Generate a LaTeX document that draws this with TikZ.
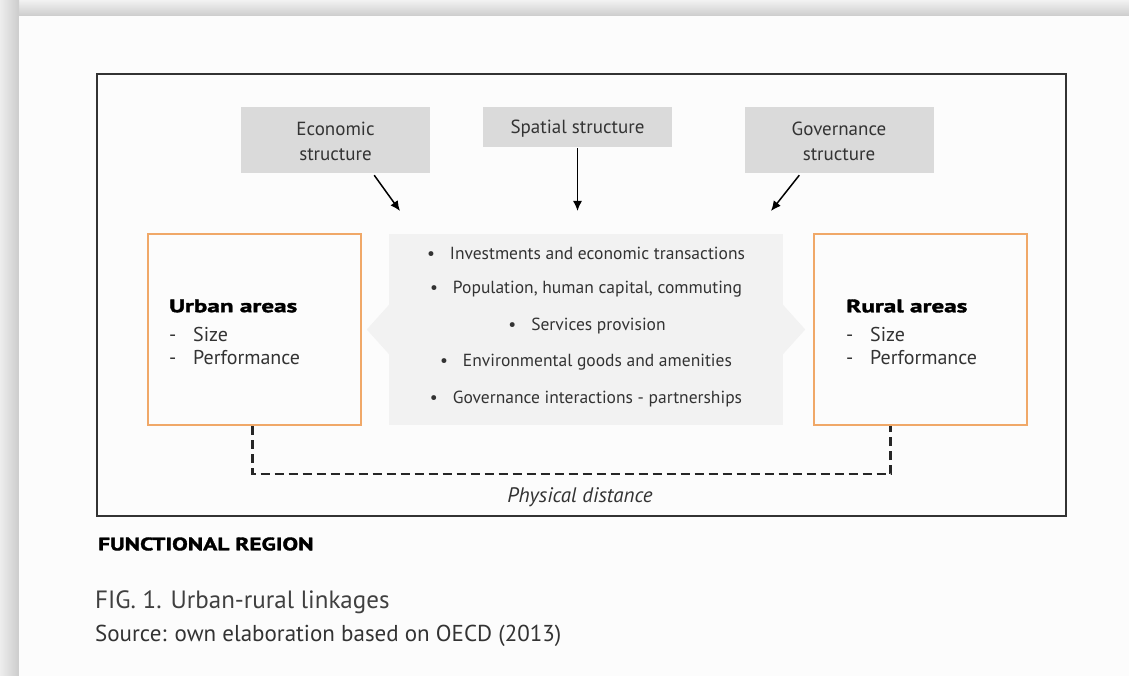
\documentclass[tikz,border=0pt]{standalone}
\usepackage{fontspec}
\setmainfont{PT Sans}
\newfontfamily\heavy{PT Sans}[BoldFeatures={FakeBold=2,FakeStretch=1.4}]
\newfontfamily\heavycap{PT Sans}[BoldFeatures={FakeBold=2,FakeStretch=1.3}]
\usetikzlibrary{arrows.meta,calc}
\definecolor{txt}{HTML}{333333}
\definecolor{topgray}{HTML}{DADADA}
\definecolor{midgray}{HTML}{F2F2F2}
\definecolor{orng}{RGB}{240,168,104}
\definecolor{frm}{HTML}{333333}
\newcommand{\lowertxt}[2]{\raisebox{-#1}[\height][\depth]{#2}}
\begin{document}
\begin{tikzpicture}[x=1pt,y=-1pt,
  every node/.style={text=txt, inner sep=0pt},
  topbox/.style={fill=topgray, minimum width=189pt, align=center, font=\fontsize{19}{25}\selectfont},
  areabox/.style={draw=orng, line width=2pt, minimum width=213pt, minimum height=191pt},
  linetxt/.style={font=\fontsize{17.5}{20}\selectfont},
  headtxt/.style={anchor=west, font=\fontsize{18}{20}\heavy\bfseries, text=black},
  itemtxt/.style={anchor=west, font=\fontsize{20}{22}\selectfont},
  arr/.style={line width=1.5pt, draw=black, -{Latex[length=10pt,width=9pt]}},
  dist/.style={line width=2.2pt, draw=black!85, dash pattern=on 9pt off 5pt}
]
\useasboundingbox (0,0) rectangle (1129,676);
\fill[white!99!black] (0,0) rectangle (1129,676);
\shade[top color=white!95!black, bottom color=white!80!black] (0,0) rectangle (1129,16);
\shade[left color=white!93!black, right color=white!80!black] (0,0) rectangle (19,676);
\fill[white!99!black] (19,16) rectangle (1129,676);

% outer frame
\node[draw=frm, line width=2.5pt, minimum width=969pt, minimum height=442pt] (frame) at (581.5,295) {};

% top boxes
\node[topbox, minimum height=66pt] (econ) at (335.5,140) {\lowertxt{3pt}{\begin{tabular}{@{}c@{}}Economic\\structure\end{tabular}}};
\node[topbox, minimum height=40pt] (spat) at (577.5,127) {\lowertxt{2pt}{Spatial structure}};
\node[topbox, minimum height=66pt] (gov) at (839,140) {\lowertxt{3pt}{\begin{tabular}{@{}c@{}}Governance\\structure\end{tabular}}};

% central box
\node[fill=midgray, minimum width=394pt, minimum height=191pt] (links) at (586,329.5) {};
\fill[midgray] ($(links.west)+(0.5,-25)$) -- ++(-22.5,25) -- ++(22.5,25) -- cycle;
\fill[midgray] ($(links.east)+(-0.5,-25)$) -- ++(22.5,25) -- ++(-22.5,25) -- cycle;

\node[linetxt] (l1) at (586,253) {•\hspace{15pt}Investments and economic transactions};
\node[linetxt] (l2) at (586,289) {•\hspace{15pt}Population, human capital, commuting};
\node[linetxt] (l3) at (587,326) {•\hspace{15pt}Services provision};
\node[linetxt] (l4) at (586,362) {•\hspace{15pt}Environmental goods and amenities};
\node[linetxt] (l5) at (586,399) {•\hspace{15pt}Governance interactions - partnerships};

% arrows
\coordinate (econE) at (400,211);
\coordinate (spatE) at (577.5,211);
\coordinate (govE) at (771,211);
\draw[arr] ([xshift=-56pt,yshift=-2pt]econ.south east) -- (econE);
\draw[arr] ([yshift=-1pt]spat.south) -- (spatE);
\draw[arr] ([xshift=55pt,yshift=-2pt]gov.south west) -- (govE);

% area boxes
\node[areabox] (urban) at (254.5,329.5) {};
\node[areabox] (rural) at (920.5,329.5) {};

\node[headtxt] (uh) at (169,306) {Urban areas};
\node[itemtxt] (us) at (169,334) {\makebox[24pt][l]{-}Size};
\node[itemtxt] (up) at (169,358) {\makebox[24pt][l]{-}Performance};
\node[headtxt] (rh) at (846,306) {Rural areas};
\node[itemtxt] (rs) at (846,334) {\makebox[24pt][l]{-}Size};
\node[itemtxt] (rp) at (846,358) {\makebox[24pt][l]{-}Performance};

% physical distance
\coordinate (dl) at ([xshift=-2pt]urban.south |- 0,474);
\coordinate (dr) at ([xshift=-30pt]rural.south |- 0,474);
\draw[dist] ([xshift=-2pt]urban.south) -- (dl) -- (dr) -- ([xshift=-30pt]rural.south);
\node[font=\fontsize{21}{22}\itshape] (pd) at (580,497) {Physical distance};

% captions
\node[anchor=west, font=\fontsize{18}{20}\heavycap\bfseries, text=black] (fr) at (98,544) {FUNCTIONAL REGION};
\node[anchor=west, font=\fontsize{25}{26}\selectfont, text=black!75] (fig) at (95,602) {FIG. 1. Urban-rural linkages};
\node[anchor=west, font=\fontsize{23}{24}\selectfont, text=black!80] (src) at (95,636) {Source: own elaboration based on OECD (2013)};
\end{tikzpicture}
\end{document}
